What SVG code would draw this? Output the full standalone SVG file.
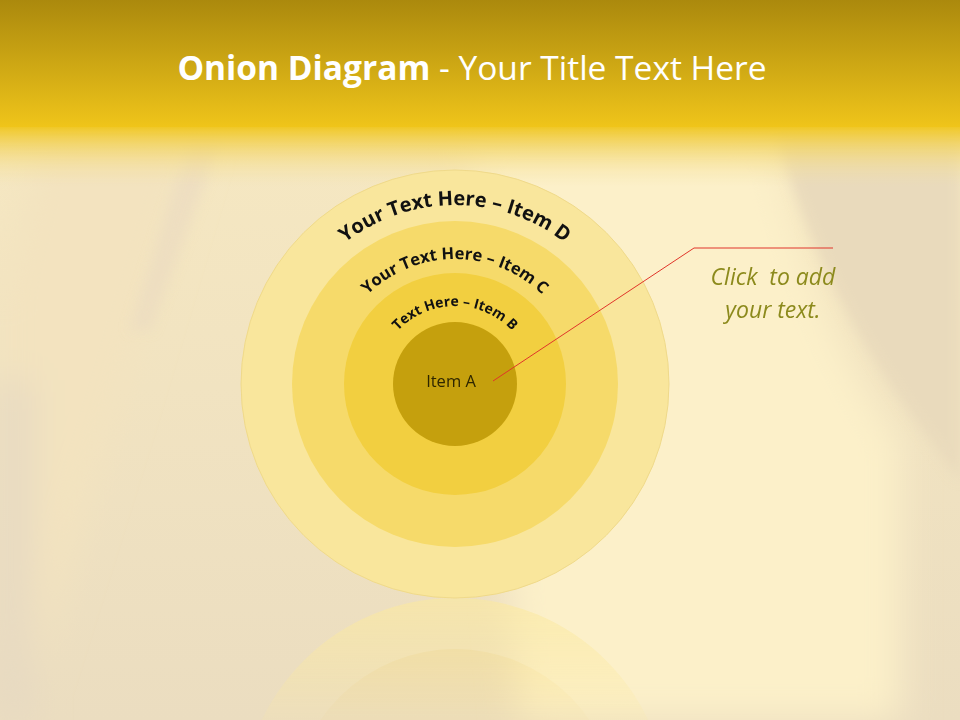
<svg xmlns="http://www.w3.org/2000/svg" width="960" height="720" viewBox="0 0 960 720">
<defs>
  <linearGradient id="hdr" x1="0" y1="0" x2="0" y2="1">
    <stop offset="0" stop-color="#AB890D"/>
    <stop offset="0.5" stop-color="#CDA714"/>
    <stop offset="1" stop-color="#F0C51A"/>
  </linearGradient>
  <linearGradient id="fade" x1="0" y1="0" x2="0" y2="1">
    <stop offset="0" stop-color="#F0C828"/>
    <stop offset="0.3" stop-color="#F2D35E" stop-opacity="0.8"/>
    <stop offset="1" stop-color="#F7E6AE" stop-opacity="0"/>
  </linearGradient>
  <linearGradient id="bg" x1="0" y1="0" x2="0" y2="1">
    <stop offset="0" stop-color="#F8EAC2"/>
    <stop offset="1" stop-color="#EBDDC0"/>
  </linearGradient>
  <linearGradient id="refl" x1="0" y1="0" x2="0" y2="1">
    <stop offset="0" stop-color="#fff" stop-opacity="0.9"/>
    <stop offset="1" stop-color="#fff" stop-opacity="0.2"/>
  </linearGradient>
  <mask id="reflMask">
    <rect x="0" y="598" width="960" height="122" fill="url(#refl)"/>
  </mask>
  <filter id="blur" x="-50%" y="-50%" width="200%" height="200%">
    <feGaussianBlur stdDeviation="18"/>
  </filter>
  <filter id="soft" x="-50%" y="-50%" width="200%" height="200%">
    <feGaussianBlur stdDeviation="6"/>
  </filter>
  <path id="arcD" d="M 276,384 A 179,179 0 0 1 634,384"/>
  <path id="arcC" d="M 330,384 A 125,125 0 0 1 580,384"/>
  <path id="arcB" d="M 377,384 A 78,78 0 0 1 533,384"/>
</defs>
<style>
  .curve { font-family: "Open Sans", "Liberation Sans", sans-serif; font-weight: bold; fill: #111; }
  .title { font-family: "Open Sans", "Liberation Sans", sans-serif; font-size: 33.5px; fill: #fff; }
  .note { font-family: "Open Sans", "Liberation Sans", sans-serif; font-style: italic; font-size: 23px; fill: #8C8A1C; white-space: pre; }
  .ringD { fill: #F9E69C; }
  .ringC { fill: #F6DA6A; }
  .ringB { fill: #F2CF40; }
  .ringA { fill: #C5A00D; }
</style>

<!-- background -->
<rect width="960" height="720" fill="url(#bg)"/>
<g filter="url(#blur)">
  <path d="M 470,130 L 770,130 C 800,260 840,360 900,440 L 900,720 L 520,720 Z" fill="#FCF0C9"/>
  <path d="M 40,130 L 200,130 L 120,400 L 20,720 L 0,720 L 0,300 Z" fill="#F3E3BF"/>
  <path d="M 0,380 L 30,380 L 30,720 L 0,720 Z" fill="#E5D8C2"/>
</g>
<g filter="url(#soft)">
  <path d="M 775,125 L 960,125 L 960,480 C 900,400 820,300 775,125 Z" fill="#E9DABC"/>
  <path d="M 190,140 L 220,140 L 150,330 L 130,330 Z" fill="#EBDCC0" opacity="0.7"/>
</g>

<!-- header -->
<rect x="0" y="0" width="960" height="128" fill="url(#hdr)"/>
<rect x="0" y="127" width="960" height="60" fill="url(#fade)"/>
<text class="title" x="472" y="80" text-anchor="middle"><tspan font-weight="bold">Onion Diagram</tspan> - Your Title Text Here</text>

<!-- reflection -->
<g mask="url(#reflMask)" opacity="0.7">
  <circle cx="455" cy="812" r="214" fill="#FBE9A0"/>
  <circle cx="455" cy="812" r="163" fill="#F8DF84"/>
</g>

<!-- onion nodes -->
<g id="itemD">
  <circle class="ringD" cx="455" cy="384" r="214" stroke="#EFD98A" stroke-width="1"/>
  <text class="curve" font-size="20"><textPath href="#arcD" startOffset="50%" text-anchor="middle">Your Text Here – Item D</textPath></text>
</g>
<g id="itemC">
  <circle class="ringC" cx="455" cy="384" r="163"/>
  <text class="curve" font-size="16.5"><textPath href="#arcC" startOffset="50%" text-anchor="middle">Your Text Here – Item C</textPath></text>
</g>
<g id="itemB">
  <circle class="ringB" cx="455" cy="384" r="111"/>
  <text class="curve" font-size="14"><textPath href="#arcB" startOffset="50%" text-anchor="middle">Text Here – Item B</textPath></text>
</g>
<g id="itemA">
  <circle class="ringA" cx="455" cy="384" r="62"/>
  <text x="451" y="387" text-anchor="middle" font-family="Open Sans, Liberation Sans, sans-serif" font-size="16.5" fill="#2E2600">Item A</text>
</g>

<!-- connector -->
<g id="connectors">
  <polyline points="493,381 694,248 833,248" fill="none" stroke="#E0352A" stroke-width="1"/>
</g>

<g id="note">
  <text class="note" x="773" y="285" text-anchor="middle" xml:space="preserve">Click  to add</text>
  <text class="note" x="773" y="318" text-anchor="middle">your text.</text>
</g>
</svg>
